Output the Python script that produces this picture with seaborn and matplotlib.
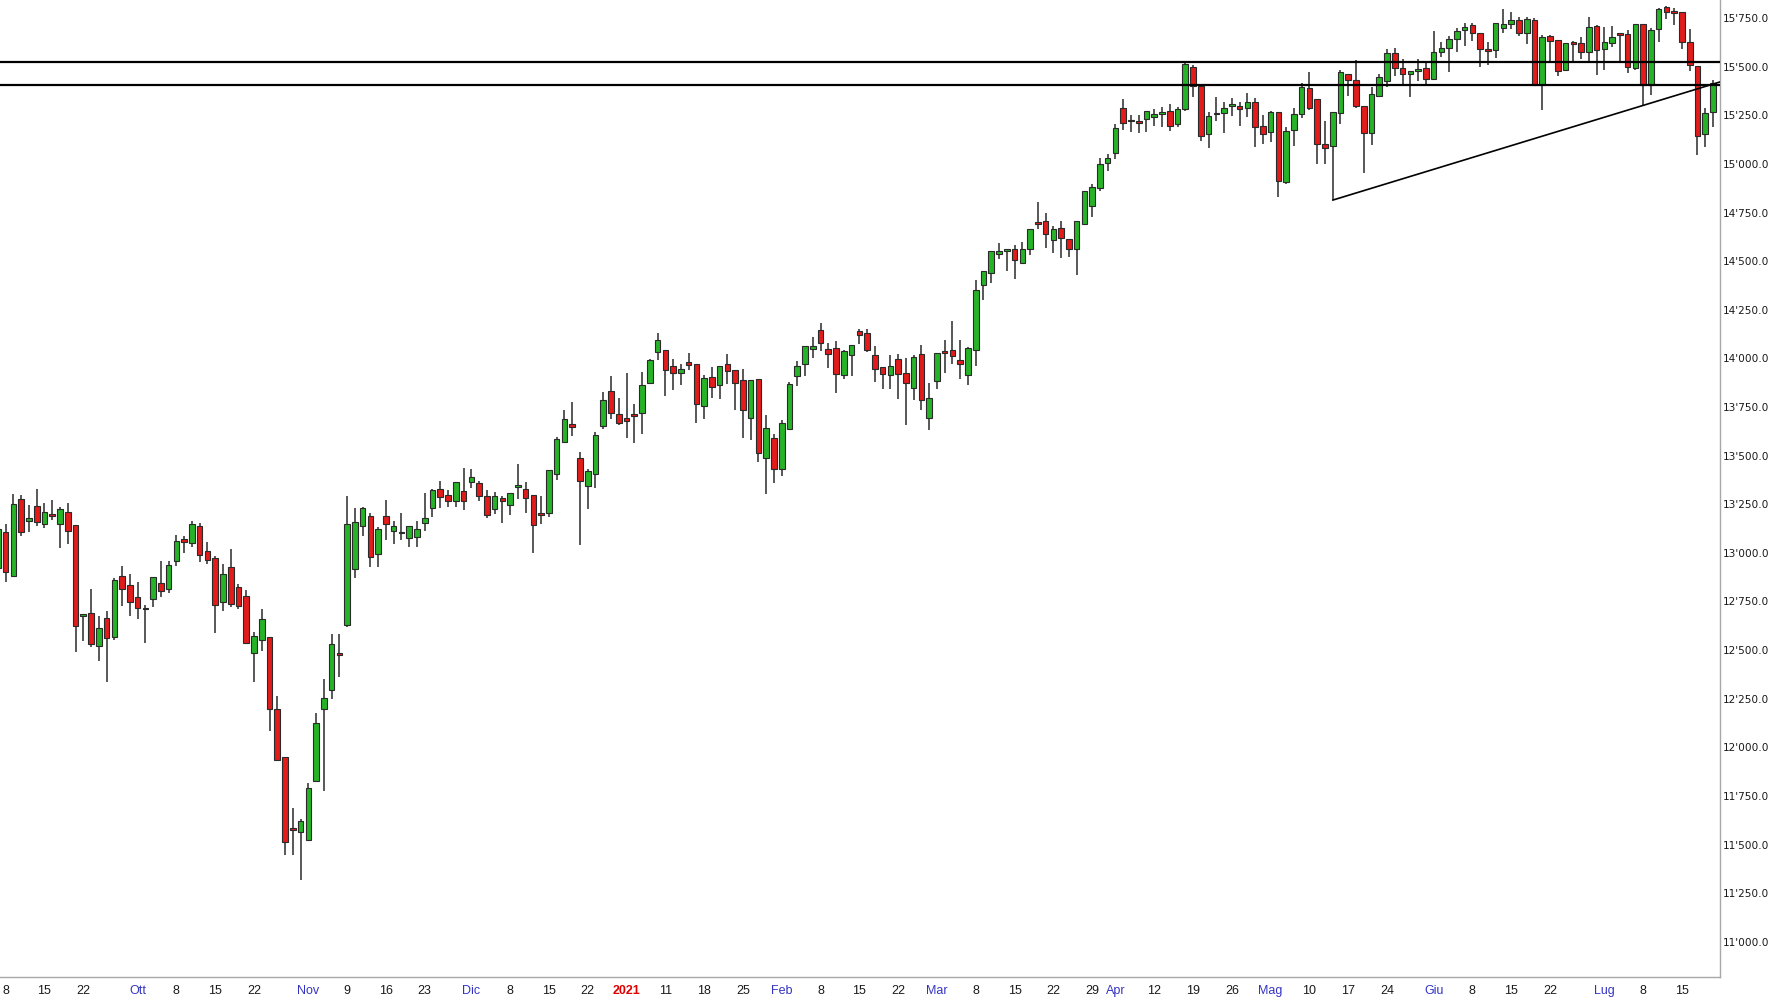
import numpy as np
import pandas as pd
import matplotlib
matplotlib.use("Agg")
import matplotlib.pyplot as plt
import seaborn as sns

# DAX daily candles, 7 Sep 2020 -> 21 Jul 2021 (trading days only)
holidays = ["2020-12-24", "2020-12-25", "2020-12-31", "2021-01-01", "2021-04-02", "2021-04-05"]
dates = pd.bdate_range("2020-09-07", "2021-07-21")
dates = dates[~dates.isin(pd.to_datetime(holidays))]

opens = [
    12924, 13106, 12883, 13278, 13163, 13243, 13149, 13197, 13149, 13212, 13144, 12677, 12689, 12523, 12665, 12569,
    12883, 12837, 12771, 12713, 12763, 12843, 12814, 12957, 13072, 13049, 13139, 13008, 12974, 12746, 12926, 12826,
    12780, 12483, 12552, 12569, 12197, 11948, 11587, 11567, 11524, 11828, 12197, 12294, 12480, 12631, 12917, 13139,
    13190, 12995, 13190, 13115, 13104, 13077, 13081, 13152, 13231, 13329, 13300, 13269, 13317, 13362, 13358, 13293,
    13225, 13283, 13247, 13338, 13329, 13300, 13201, 13207, 13403, 13570, 13664, 13487, 13345, 13406, 13650, 13832,
    13712, 13695, 13712, 13719, 13875, 14033, 14045, 13961, 13926, 13981, 13973, 13754, 13904, 13861, 13969, 13938,
    13887, 13693, 13892, 13487, 13590, 13429, 13635, 13908, 13973, 14050, 14148, 14046, 14053, 13913, 14016, 14139,
    14132, 14019, 13956, 13913, 13995, 13926, 13849, 14024, 13693, 13883, 14033, 14041, 13990, 13913, 14045, 14376,
    14440, 14539, 14553, 14563, 14491, 14565, 14702, 14707, 14611, 14668, 14616, 14565, 14693, 14786, 14874, 15006,
    15054, 15289, 15219, 15220, 15229, 15243, 15255, 15272, 15203, 15280, 15500, 15400, 15152, 15260, 15260, 15299,
    15299, 15286, 15316, 15196, 15162, 15265, 14908, 15174, 15256, 15392, 15334, 15105, 15093, 15260, 15462, 15431,
    15299, 15157, 15349, 15426, 15572, 15495, 15462, 15478, 15495, 15436, 15577, 15598, 15641, 15689, 15714, 15672,
    15589, 15586, 15697, 15718, 15740, 15675, 15740, 15406, 15658, 15637, 15483, 15620, 15620, 15577, 15709, 15589,
    15624, 15668, 15666, 15491, 15718, 15406, 15692, 15805, 15787, 15780, 15625, 15503, 15152, 15265,
]
highs = [
    13140, 13149, 13303, 13298, 13247, 13329, 13255, 13272, 13238, 13255, 13144, 12681, 12814, 12677, 12699, 12871,
    12934, 12892, 12849, 12734, 12874, 12960, 12960, 13094, 13089, 13166, 13156, 13055, 12986, 12943, 13020, 12840,
    12809, 12591, 12711, 12569, 12265, 11948, 11690, 11630, 11819, 12174, 12351, 12583, 12583, 13290, 13230, 13238,
    13207, 13135, 13273, 13166, 13204, 13139, 13166, 13307, 13329, 13367, 13324, 13362, 13437, 13432, 13367, 13321,
    13312, 13290, 13307, 13455, 13362, 13300, 13290, 13424, 13595, 13733, 13774, 13518, 13432, 13621, 13827, 13908,
    13798, 13925, 13767, 13930, 13998, 14131, 14045, 13998, 13973, 14029, 13973, 13913, 13956, 13959, 14024, 13938,
    13947, 13887, 13892, 13710, 13612, 13681, 13879, 13985, 14064, 14110, 14184, 14081, 14089, 14045, 14071, 14153,
    14153, 14064, 13956, 14019, 14024, 14004, 14019, 14067, 13873, 14029, 14093, 14191, 14093, 14059, 14405, 14450,
    14553, 14594, 14563, 14585, 14599, 14663, 14805, 14748, 14680, 14707, 14616, 14707, 14860, 14896, 15028, 15050,
    15205, 15332, 15251, 15251, 15272, 15285, 15291, 15308, 15294, 15521, 15509, 15400, 15268, 15345, 15320, 15337,
    15320, 15363, 15340, 15251, 15274, 15265, 15191, 15286, 15414, 15474, 15334, 15222, 15265, 15483, 15462, 15534,
    15299, 15394, 15462, 15589, 15598, 15538, 15478, 15538, 15517, 15684, 15629, 15658, 15697, 15723, 15723, 15672,
    15629, 15723, 15795, 15783, 15757, 15757, 15749, 15663, 15663, 15637, 15624, 15634, 15654, 15754, 15714, 15706,
    15709, 15672, 15689, 15718, 15718, 15697, 15800, 15812, 15800, 15780, 15692, 15503, 15286, 15431,
]
lows = [
    12890, 12849, 12883, 13089, 13106, 13140, 13127, 13170, 13025, 13046, 12488, 12548, 12517, 12445, 12334, 12552,
    12729, 12677, 12660, 12535, 12720, 12771, 12792, 12934, 12998, 13032, 12952, 12943, 12586, 12699, 12720, 12711,
    12535, 12334, 12497, 12085, 11930, 11447, 11447, 11316, 11519, 11824, 11776, 12248, 12363, 12620, 12871, 13089,
    12929, 12926, 13067, 13046, 13067, 13029, 13032, 13115, 13183, 13231, 13238, 13235, 13221, 13334, 13266, 13180,
    13201, 13154, 13195, 13278, 13204, 12999, 13146, 13183, 13377, 13570, 13599, 13038, 13226, 13333, 13638, 13690,
    13660, 13592, 13564, 13613, 13870, 13993, 13805, 13839, 13861, 13938, 13667, 13686, 13798, 13793, 13866, 13736,
    13592, 13581, 13466, 13303, 13359, 13393, 13635, 13856, 13908, 14004, 14038, 13952, 13822, 13896, 13908, 14072,
    14033, 13878, 13844, 13844, 13793, 13659, 13784, 13736, 13633, 13844, 13925, 13969, 13896, 13861, 13960, 14302,
    14388, 14513, 14450, 14410, 14484, 14530, 14663, 14570, 14542, 14518, 14522, 14428, 14690, 14728, 14862, 14965,
    15023, 15177, 15165, 15157, 15165, 15194, 15191, 15171, 15191, 15274, 15346, 15119, 15083, 15222, 15157, 15246,
    15195, 15239, 15088, 15102, 15114, 14831, 14899, 15093, 15234, 15277, 15002, 14999, 14814, 15205, 15349, 15286,
    14954, 15097, 15346, 15394, 15452, 15406, 15346, 15426, 15406, 15436, 15548, 15474, 15577, 15606, 15634, 15500,
    15509, 15543, 15672, 15692, 15658, 15617, 15406, 15277, 15521, 15452, 15478, 15526, 15538, 15529, 15457, 15483,
    15600, 15526, 15466, 15483, 15301, 15354, 15629, 15744, 15715, 15589, 15479, 15045, 15088, 15191,
]
closes = [
    13125, 12900, 13252, 13106, 13180, 13161, 13212, 13190, 13226, 13115, 12626, 12681, 12531, 12614, 12562, 12861,
    12814, 12746, 12717, 12709, 12874, 12806, 12940, 13060, 13055, 13149, 12991, 12964, 12734, 12892, 12737, 12729,
    12535, 12574, 12660, 12197, 11934, 11515, 11577, 11622, 11793, 12123, 12253, 12531, 12475, 13146, 13158, 13231,
    12977, 13123, 13149, 13140, 13100, 13139, 13123, 13180, 13324, 13286, 13269, 13362, 13269, 13389, 13293, 13195,
    13292, 13269, 13307, 13346, 13281, 13144, 13195, 13424, 13583, 13686, 13647, 13367, 13420, 13604, 13787, 13719,
    13667, 13678, 13705, 13861, 13990, 14093, 13938, 13926, 13947, 13964, 13767, 13899, 13852, 13959, 13935, 13873,
    13733, 13887, 13513, 13642, 13429, 13669, 13870, 13959, 14064, 14064, 14081, 14021, 13921, 14036, 14071, 14122,
    14041, 13947, 13921, 13959, 13921, 13875, 14007, 13787, 13796, 14029, 14030, 14010, 13969, 14053, 14354, 14450,
    14553, 14554, 14563, 14508, 14565, 14663, 14690, 14639, 14663, 14621, 14565, 14707, 14860, 14879, 15002, 15033,
    15183, 15208, 15225, 15208, 15272, 15257, 15268, 15196, 15282, 15514, 15400, 15145, 15248, 15255, 15289, 15306,
    15280, 15318, 15191, 15152, 15265, 14911, 15169, 15255, 15394, 15286, 15105, 15083, 15265, 15474, 15431, 15297,
    15157, 15358, 15449, 15572, 15495, 15461, 15478, 15488, 15436, 15574, 15598, 15641, 15684, 15706, 15672, 15589,
    15582, 15723, 15720, 15740, 15675, 15745, 15406, 15655, 15632, 15479, 15620, 15618, 15577, 15706, 15586, 15625,
    15654, 15663, 15500, 15718, 15406, 15689, 15795, 15783, 15775, 15629, 15509, 15145, 15263, 15418,
]

# resistance band and rising support (from the 13 May low through the 8 Jul low)
levels = [15524, 15404]
trend_from, trend_to = "2021-05-13", "2021-07-08"

tick_dates = ["2020-09-08", "2020-09-15", "2020-09-22", "2020-10-01", "2020-10-08", "2020-10-15", "2020-10-22",
              "2020-11-02", "2020-11-09", "2020-11-16", "2020-11-23", "2020-12-01", "2020-12-08", "2020-12-15",
              "2020-12-22", "2021-01-04", "2021-01-11", "2021-01-18", "2021-01-25", "2021-02-01", "2021-02-08",
              "2021-02-15", "2021-02-22", "2021-03-01", "2021-03-08", "2021-03-15", "2021-03-22", "2021-03-29",
              "2021-04-01", "2021-04-12", "2021-04-19", "2021-04-26", "2021-05-03", "2021-05-10", "2021-05-17",
              "2021-05-24", "2021-06-01", "2021-06-08", "2021-06-15", "2021-06-22", "2021-07-01", "2021-07-08",
              "2021-07-15"]
tick_labels = ["8", "15", "22", "Ott", "8", "15", "22", "Nov", "9", "16", "23", "Dic", "8", "15", "22", "2021",
               "11", "18", "25", "Feb", "8", "15", "22", "Mar", "8", "15", "22", "29", "Apr", "12", "19", "26",
               "Mag", "10", "17", "24", "Giu", "8", "15", "22", "Lug", "8", "15"]
months = ["Ott", "Nov", "Dic", "Feb", "Mar", "Apr", "Mag", "Giu", "Lug"]

df = pd.DataFrame({"date": dates, "open": opens, "high": highs, "low": lows, "close": closes})
df["x"] = np.arange(len(df)) - 1  # 8 Sep 2020 at 0
df["up"] = df["close"] >= df["open"]

sns.set_style("white")
plt.rcParams["font.family"] = ["DejaVu Sans"]

fig = plt.figure(figsize=(17.75, 10), dpi=100)
ax = fig.add_axes([0, 0.023, 0.969, 0.977])

edge = "#2a2a2a"
ax.vlines(df["x"], df["low"], df["high"], color=edge, lw=1.1, zorder=1)
body_lo = df[["open", "close"]].min(axis=1)
body_h = (df["close"] - df["open"]).abs().clip(lower=9)
ax.bar(df["x"], body_h, bottom=body_lo, width=0.72,
       color=np.where(df["up"], "#27b327", "#e21b1b"), edgecolor=edge, linewidth=0.8, zorder=2)

for lv in levels:
    ax.axhline(lv, color="black", lw=1.6, zorder=3)

xlim = (-0.73, 220.9)
pos = {d: x for d, x in zip(df["date"], df["x"])}
t0 = df.loc[df["date"] == trend_from].iloc[0]
t1 = df.loc[df["date"] == trend_to].iloc[0]
slope = (t1["low"] - t0["low"]) / (t1["x"] - t0["x"])
sns.lineplot(x=[t0["x"], xlim[1]], y=[t0["low"], t0["low"] + slope * (xlim[1] - t0["x"])],
             color="black", lw=1.2, ax=ax, zorder=3)

ax.set_xlim(*xlim)
ax.set_ylim(10819, 15843)

yt = np.arange(11000, 15751, 250)
ax.yaxis.tick_right()
ax.set_yticks(yt)
ax.set_yticklabels([f"{v:,.1f}".replace(",", "'") for v in yt], fontsize=7.6, color="#1a1a1a")
ax.tick_params(axis="y", length=0, pad=2)

ax.set_xticks([pos[pd.Timestamp(d)] for d in tick_dates])
ax.set_xticklabels(tick_labels, fontsize=9, family=["Liberation Sans", "DejaVu Sans"])
ax.tick_params(axis="x", length=4, width=0.8, color="#808080", pad=1.5)
for lab in ax.get_xticklabels():
    t = lab.get_text()
    if t in months:
        lab.set_color("#3434c4")
    elif t == "2021":
        lab.set_color("#e00000")
        lab.set_fontweight("bold")
    else:
        lab.set_color("#1a1a1a")

for s in ["top", "left"]:
    ax.spines[s].set_visible(False)
for s in ["right", "bottom"]:
    ax.spines[s].set_color("#a8a8a8")
    ax.spines[s].set_linewidth(1)
ax.set_xlabel("")
ax.set_ylabel("")

fig.savefig("out.png", dpi=100)
